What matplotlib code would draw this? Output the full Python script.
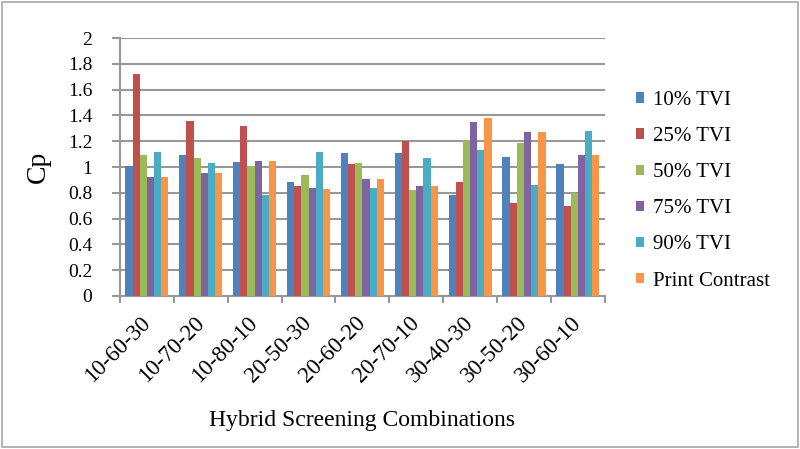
import numpy as np
import matplotlib
matplotlib.use("Agg")
import matplotlib.pyplot as plt
from matplotlib.patches import Rectangle

# Cp for each hybrid screening combination
combinations = ["10-60-30", "10-70-20", "10-80-10", "20-50-30", "20-60-20",
                "20-70-10", "30-40-30", "30-50-20", "30-60-10"]
tvi_10 = [1.01, 1.09, 1.04, 0.88, 1.11, 1.11, 0.78, 1.08, 1.02]
tvi_25 = [1.72, 1.36, 1.32, 0.85, 1.02, 1.20, 0.88, 0.72, 0.70]
tvi_50 = [1.09, 1.07, 1.01, 0.94, 1.03, 0.82, 1.21, 1.19, 0.80]
tvi_75 = [0.92, 0.95, 1.05, 0.84, 0.91, 0.85, 1.35, 1.27, 1.09]
tvi_90 = [1.12, 1.03, 0.78, 1.12, 0.84, 1.07, 1.13, 0.86, 1.28]
print_contrast = [0.92, 0.95, 1.05, 0.83, 0.91, 0.85, 1.38, 1.27, 1.09]

series_names = ["10% TVI", "25% TVI", "50% TVI", "75% TVI", "90% TVI", "Print Contrast"]
series_values = [tvi_10, tvi_25, tvi_50, tvi_75, tvi_90, print_contrast]
colors = ["#4F81BD", "#C0504D", "#9BBB59", "#8064A2", "#4BACC6", "#F79646"]

plt.rcParams["font.family"] = ["Liberation Serif", "DejaVu Serif"]

fig = plt.figure(figsize=(8, 4.49), dpi=100)
ax = fig.add_axes([0.15, 0.341, 0.606, 0.574])

x = np.arange(len(combinations))
n = len(series_values)
width = 0.8 / n
for i, (name, vals, c) in enumerate(zip(series_names, series_values, colors)):
    offset = (i - (n - 1) / 2) * width
    ax.bar(x + offset, vals, width, color=c, label=name, zorder=3)

grid_color = "#989898"
ax.set_xlim(-0.5, len(combinations) - 0.5)
ax.set_ylim(0, 2)
ax.set_yticks(np.arange(0, 2.01, 0.2))
ax.set_yticklabels(["0", "0.2", "0.4", "0.6", "0.8", "1", "1.2", "1.4", "1.6", "1.8", "2"])
ax.yaxis.grid(True, color=grid_color, lw=1.5, zorder=0)
ax.set_axisbelow(True)

# category labels at centres, tick marks at the boundaries
ax.set_xticks(x)
ax.set_xticklabels(combinations, rotation=45, ha="right", va="center",
                   rotation_mode="anchor")
ax.set_xticks(np.arange(-0.5, len(combinations), 1), minor=True)
ax.tick_params(axis="x", which="major", length=0, pad=17, labelsize=16.5)
ax.tick_params(axis="x", which="minor", length=5, width=1.5, color=grid_color, direction="out")
ax.tick_params(axis="y", length=6, width=1.5, color=grid_color, pad=14, labelsize=14)

for side in ["top", "right"]:
    ax.spines[side].set_visible(False)
for side in ["left", "bottom"]:
    ax.spines[side].set_color(grid_color)
    ax.spines[side].set_linewidth(1.5)

ax.set_ylabel("Cp", fontsize=20, labelpad=12)
ax.set_xlabel("Hybrid Screening Combinations", fontsize=17, labelpad=17)

fig.legend(loc="center left", bbox_to_anchor=(0.782, 0.575), frameon=False,
           fontsize=15, handlelength=0.4, handleheight=0.4, handletextpad=0.4,
           labelspacing=0.82, borderpad=0)

fig.patches.append(Rectangle((0.002, 0.004), 0.996, 0.992, transform=fig.transFigure,
                             fill=False, edgecolor="#A6A6A6", lw=1.2))

fig.savefig("out.png", dpi=100)
